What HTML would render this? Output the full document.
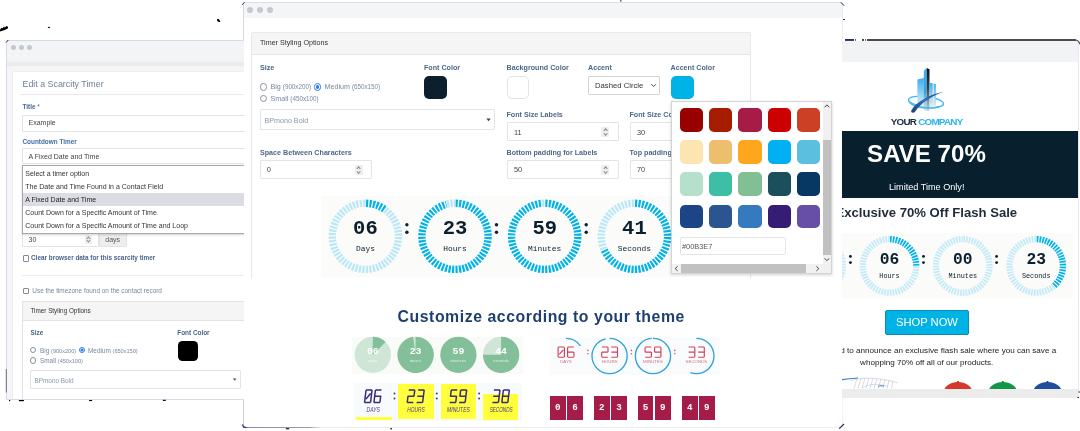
<!DOCTYPE html>
<html>
<head>
<meta charset="utf-8">
<title>Scarcity Timer</title>
<style>
*{box-sizing:border-box;margin:0;padding:0}
html,body{width:1080px;height:431px;overflow:hidden;background:#fff}
#page{position:absolute;left:0;top:0;width:1080px;height:431px;overflow:hidden;background:#fff;filter:blur(.4px)}
body{position:relative;font-family:"Liberation Sans",sans-serif;color:#333;-webkit-font-smoothing:antialiased}
.abs,.w *{position:absolute;white-space:nowrap}
.w{position:absolute;overflow:hidden;background:#fff}
.o{width:0;height:0;overflow:visible}
.dot{border-radius:50%;background:#c4c8d0}
.tn{font-family:"Liberation Mono",monospace;font-weight:bold;fill:#0b1f2d;text-anchor:middle}
.tl{font-family:"Liberation Mono",monospace;fill:#0b1f2d;text-anchor:middle}
svg{position:absolute;left:0;top:0;overflow:visible}
svg *{position:static}

/* ---------- left window ---------- */
#wl{left:6px;top:40px;width:240px;height:360px;border:1px solid #d9d9ea;border-radius:3px 0 0 0;background:#f4f5f7}
#wl .lb{font-weight:bold;font-size:6.4px;color:#46658a;line-height:8px}
#wl .in{border:1px solid #e2e3e7;background:#fff;border-radius:1px}
#wl .tx{font-size:7px;color:#444;line-height:9px}

/* ---------- middle window ---------- */
#wm{left:243.6px;top:2px;width:598.100px;height:426px;border:1px solid #dcdcec;border-bottom:none;border-left:none;border-right:none;border-radius:0 3px 0 0}
#wm .lb{font-weight:bold;font-size:7.15px;color:#4d6888;line-height:9px}
#wm .in{border:1px solid #e3e4e7;background:#fff;border-radius:1px;height:19px}
#wm .tx{font-size:7.4px;color:#444;line-height:9px}
#wm .sp{width:8px;height:9.500px;background:#eee;border-radius:1px}
#wm .sp:before,#wm .sp:after{content:"";position:absolute;left:2.600px;width:2.200px;height:2.200px;border-left:.7px solid #888;border-top:.7px solid #888}
#wm .sp:before{top:2.200px;transform:rotate(45deg)}
#wm .sp:after{top:4.800px;transform:rotate(225deg)}
.sp2{width:7px;height:8.500px;background:#eee;border-radius:1px}
.sp2:before,.sp2:after{content:"";position:absolute;left:2.300px;width:1.900px;height:1.900px;border-left:.7px solid #888;border-top:.7px solid #888}
.sp2:before{top:2px;transform:rotate(45deg)}
.sp2:after{top:4.300px;transform:rotate(225deg)}
.sw{border-radius:5px}
.rd{width:7.4px;height:7.4px;border-radius:50%;border:1px solid #8b9099;background:#fff}
.rd.on{border:1.2px solid #2b7de9;background:radial-gradient(circle,#2b7de9 0 1.6px,#fff 2px)}
.rt{font-size:7.15px;color:#7688a0;line-height:9px}

.cb{width:6.600px;height:6.600px;border:.9px solid #858a92;border-radius:1px;background:#fff}
.rd.s{width:6.400px;height:6.400px}
.rd.s.on{border-width:1px;background:radial-gradient(circle,#2b7de9 0 1.300px,#fff 1.700px)}
.rt.s{font-size:6.4px}
.rt.s small{font-size:5.6px}
.rt small{position:static;font-size:6.27px;color:#7688a0}


/* ---------- right window ---------- */
#wr{left:841.600px;top:39px;width:237.400px;height:359px;border-right:1px solid #e8e8ee;border-radius:0 4px 0 0}
</style>
</head>
<body>
<div id="page">

<!-- ================= LEFT WINDOW ================= -->
<div class="w" id="wl">
  <div class="o" style="left:-7px;top:-41px">
  <div style="left:7px;top:41px;width:240px;height:21px;background:#f3f4f6"></div>
  <div style="left:7px;top:62px;width:240px;height:3.5px;background:#ebebec"></div>
  <div class="dot" style="left:10.6px;top:44.6px;width:5px;height:5px"></div>
  <div class="dot" style="left:18.9px;top:44.6px;width:5px;height:5px"></div>
  <div class="dot" style="left:27.2px;top:44.6px;width:5px;height:5px"></div>

  <!-- white card -->
  <div style="left:12px;top:70.7px;width:240px;height:340px;background:#fff;border-left:1px solid #ececee;border-top:1px solid #f0f0f2"></div>
  <div style="left:22.5px;top:77.5px;font-size:8.86px;line-height:12px;color:#6d7f97">Edit a Scarcity Timer</div>
  <div style="left:20px;top:94px;width:230px;height:1px;background:#e9e9eb"></div>

  <div class="lb" style="left:22.5px;top:103.2px">Title <span style="position:static;font-weight:normal">*</span></div>
  <div class="in" style="left:22px;top:114.5px;width:230px;height:17px"></div>
  <div class="tx" style="left:28.5px;top:118.2px">Example</div>

  <div class="lb" style="left:22.5px;top:137.5px;color:#3f6fa3">Countdown Timer</div>
  <div class="in" style="left:22px;top:148px;width:230px;height:16.3px"></div>
  <div class="tx" style="left:28.5px;top:152px">A Fixed Date and Time</div>

  <!-- number input + addon (under dropdown) -->
  <div class="in" style="left:22px;top:231px;width:77px;height:16.3px"></div>
  <div class="tx" style="left:28.5px;top:235.2px">30</div>
  <div class="sp2" style="left:84.5px;top:235.2px"></div>
  <div style="left:98.5px;top:231px;width:28px;height:16.3px;background:#eeeeee;border:1px solid #e2e2e2;border-radius:0 2px 2px 0"></div>
  <div class="tx" style="left:105.3px;top:235.2px;color:#555">days</div>

  <!-- dropdown list -->
  <div style="left:22px;top:164.6px;width:230px;height:69.4px;background:#fff;border:1px solid #a6a6ab;box-shadow:0 1px 2px rgba(0,0,0,.18)"></div>
  <div style="left:23px;top:193.3px;width:228px;height:13px;background:#dcdce4"></div>
  <div class="tx" style="left:25.3px;top:169.3px;color:#333">Select a timer option</div>
  <div class="tx" style="left:25.3px;top:182.3px;color:#333">The Date and Time Found in a Contact Field</div>
  <div class="tx" style="left:25.3px;top:195.4px;color:#222">A Fixed Date and Time</div>
  <div class="tx" style="left:25.3px;top:208.3px;color:#333">Count Down for a Specific Amount of Time</div>
  <div class="tx" style="left:25.3px;top:221.3px;color:#333">Count Down for a Specific Amount of Time and Loop</div>

  <div class="cb" style="left:22.6px;top:255px"></div>
  <div class="lb" style="left:31px;top:254px">Clear browser data for this scarcity timer</div>
  <div style="left:22px;top:275px;width:230px;height:1px;background:#ececee"></div>

  <div class="cb" style="left:22.6px;top:287.6px"></div>
  <div class="tx" style="left:32.3px;top:286.3px;font-size:6.42px;color:#7688a0">Use the timezone found on the contact record</div>

  <!-- styling options panel -->
  <div style="left:22px;top:300.5px;width:240px;height:110px;border:1px solid #e3e3e6;background:#fff"></div>
  <div style="left:23px;top:301.5px;width:238px;height:19px;background:#f5f5f5;border-bottom:1px solid #e3e3e6"></div>
  <div class="tx" style="left:30.4px;top:306.4px;font-size:6.35px;color:#333">Timer Styling Options</div>

  <div class="lb" style="left:30.5px;top:329px">Size</div>
  <div class="rd s" style="left:30px;top:347px"></div>
  <div class="rt s" style="left:40px;top:345.6px">Big <small>(900x200)</small></div>
  <div class="rd s on" style="left:78.5px;top:347px"></div>
  <div class="rt s" style="left:88px;top:345.6px">Medium <small>(650x150)</small></div>
  <div class="rd s" style="left:30px;top:357.4px"></div>
  <div class="rt s" style="left:40px;top:356.2px">Small <small>(450x100)</small></div>

  <div class="lb" style="left:177.3px;top:329px">Font Color</div>
  <div class="sw" style="left:177.5px;top:340.6px;width:20px;height:20.4px;background:#000;border-radius:4.5px"></div>

  <div class="in" style="left:30px;top:370px;width:211px;height:18.8px"></div>
  <div class="tx" style="left:34.5px;top:375.7px;font-size:6.4px;color:#8a97a8">BPmono Bold</div>
  <svg width="1080" height="431"><path d="M232.8 378.4h3.8l-1.9 2.3z" fill="#555"/></svg>

  </div>
</div>

<!-- ================= RIGHT WINDOW ================= -->
<div class="w" id="wr">
  <div class="o" style="left:-841.600px;top:-39px">
  <div style="left:841.600px;top:40.5px;width:239px;height:21.500px;background:#f2f3f5"></div>
  <div style="left:866.8px;top:39px;width:209px;height:2px;background:#4a4a50"></div>

  <!-- logo -->
  <svg width="1080" height="431">
    <defs>
      <linearGradient id="gA" x1="0" y1="0" x2="0" y2="1"><stop offset="0" stop-color="#36b4ee"/><stop offset=".55" stop-color="#3aa0dd"/><stop offset="1" stop-color="#dfe6ee"/></linearGradient>
      <linearGradient id="gB" x1="0" y1="0" x2="0" y2="1"><stop offset="0" stop-color="#0a1018"/><stop offset=".5" stop-color="#3b4656"/><stop offset="1" stop-color="#c8ced6"/></linearGradient>
      <linearGradient id="gC" x1="0" y1="0" x2="0" y2="1"><stop offset="0" stop-color="#38aeea"/><stop offset="1" stop-color="#e6f3fb"/></linearGradient>
      <linearGradient id="gD" x1="0" y1="1" x2="1" y2="0"><stop offset="0" stop-color="#1f3f75"/><stop offset=".5" stop-color="#2c6fb5"/><stop offset="1" stop-color="#1d3f7a"/></linearGradient>
    </defs>
    <ellipse cx="926" cy="101.8" rx="17.6" ry="5.2" transform="rotate(7 926 101.8)" fill="none" stroke="#45baf0" stroke-width="1.5"/>
    <path d="M917.4 79.600l6.500-1.500v29.500l-6.500-.6z" fill="url(#gC)"/>
    <path d="M923.8 71l2.900-2.900v42.800l-2.900-.3z" fill="url(#gA)"/>
    <path d="M926.700 68.100l2.800 1.100v41.300l-2.800 .4z" fill="url(#gB)"/>
    <path d="M929.500 82.800l6.400 1.500v23l-6.400 .9z" fill="url(#gC)"/>
    <path d="M932.600 83.500l1.300 .3v24l-1.300 .2z" fill="#e9f1f8" opacity=".8"/>
    <path d="M908.200 99.200c.2 3.400 7 6.600 15.500 7.600c8 .9 16.500 .3 20.300-2.200c-2.500 3.600-11 5-20.600 3.900c-9.600-1.100-16.600-5-15.200-9.300z" fill="#45baf0"/>
    <path d="M911.300 110.400c4.700-8.200 18.500-16 32.400-18.600c-12.500 4-23.300 11.700-28.700 20c-1.100 1.700-4.600 .7-3.700-1.400z" fill="url(#gD)"/>
  </svg>
  <div style="left:890.8px;top:115.6px;font-weight:bold;font-size:9.9px;line-height:11px;letter-spacing:-.78px;color:#1b2a3e">YOUR <span style="position:static;color:#2bb5f0">COMPANY</span></div>

  <!-- banner -->
  <div style="left:841.6px;top:131.300px;width:236.200px;height:67.200px;background:#081f2d"></div>
  <div style="left:867.1px;top:139.5px;font-weight:bold;font-size:24.1px;line-height:28px;color:#fff">SAVE 70%</div>
  <div style="left:889px;top:181.6px;font-size:9.12px;line-height:11px;color:#fff">Limited Time Only!</div>

  <div style="left:835.500px;top:205px;font-weight:bold;font-size:13.13px;line-height:16px;color:#1f2b3a">Exclusive 70% Off Flash Sale</div>

  <!-- timer -->
  <div style="left:841.6px;top:232.8px;width:231.500px;height:66.5px;background:#fbfbfa"></div>
  <svg width="1080" height="431"><path d="M839.37 252.52A26.75 26.75 0 0 1 793.03 279.27A26.75 26.75 0 0 1 816.20 239.15" fill="none" stroke="#c3eaf8" stroke-width="6.3" stroke-dasharray="1.737 1.064" stroke-dashoffset="-0.532"/><path d="M816.20 239.15A26.75 26.75 0 0 1 839.37 252.52" fill="none" stroke="#00b3e7" stroke-width="6.3" stroke-dasharray="1.737 1.064" stroke-dashoffset="-0.532"/><text x="816.2" y="263.9" class="tn" font-size="16.3">00</text><text x="816.2" y="277.9" class="tl" font-size="6.8">Days</text><path d="M916.25 265.90A26.75 26.75 0 0 1 862.75 265.90A26.75 26.75 0 0 1 889.50 239.15" fill="none" stroke="#c3eaf8" stroke-width="6.3" stroke-dasharray="1.737 1.064" stroke-dashoffset="-0.532"/><path d="M889.50 239.15A26.75 26.75 0 0 1 916.25 265.90" fill="none" stroke="#00b3e7" stroke-width="6.3" stroke-dasharray="1.737 1.064" stroke-dashoffset="-0.532"/><text x="889.5" y="263.9" class="tn" font-size="16.3">06</text><text x="889.5" y="277.9" class="tl" font-size="6.8">Hours</text><path d="M962.80 239.15A26.75 26.75 0 0 1 962.80 292.65A26.75 26.75 0 0 1 962.66 239.15" fill="none" stroke="#c3eaf8" stroke-width="6.3" stroke-dasharray="1.737 1.064" stroke-dashoffset="-0.532"/><text x="962.8" y="263.9" class="tn" font-size="16.3">00</text><text x="962.8" y="277.9" class="tl" font-size="6.8">Minutes</text><path d="M1054.10 285.78A26.75 26.75 0 0 1 1018.30 246.02A26.75 26.75 0 0 1 1036.20 239.15" fill="none" stroke="#c3eaf8" stroke-width="6.3" stroke-dasharray="1.737 1.064" stroke-dashoffset="-0.532"/><path d="M1036.20 239.15A26.75 26.75 0 0 1 1054.10 285.78" fill="none" stroke="#00b3e7" stroke-width="6.3" stroke-dasharray="1.737 1.064" stroke-dashoffset="-0.532"/><text x="1036.2" y="263.9" class="tn" font-size="16.3">23</text><text x="1036.2" y="277.9" class="tl" font-size="6.8">Seconds</text><circle cx="850.4" cy="256.4" r="1.45" fill="#0b1f2d"/><circle cx="850.4" cy="262.6" r="1.45" fill="#0b1f2d"/><circle cx="923.5" cy="256.4" r="1.45" fill="#0b1f2d"/><circle cx="923.5" cy="262.6" r="1.45" fill="#0b1f2d"/><circle cx="996.6" cy="256.4" r="1.45" fill="#0b1f2d"/><circle cx="996.6" cy="262.6" r="1.45" fill="#0b1f2d"/></svg>

  <!-- button -->
  <div style="left:885.2px;top:310px;width:83.5px;height:24.8px;background:#00b3e7;border:1px solid #1089b9;border-radius:2px;color:#fff;font-size:11.2px;line-height:23px;text-align:center">SHOP NOW</div>

  <div style="left:723.500px;top:345.4px;width:400px;text-align:center;font-size:8.12px;line-height:11.4px;color:#222">We are excited to announce an exclusive flash sale where you can save a</div>
  <div style="left:726.700px;top:356.800px;width:400px;text-align:center;font-size:8.12px;line-height:11.4px;color:#222">whopping 70% off all of our products.</div>

  <!-- products -->
  <svg width="1080" height="431">
    <g fill="none" stroke="#c5ccd6" stroke-width=".7"><path d="M857 378.500l-3 10M861 378.300l-3 10M865 378.200l-3 10M869 378.200l-3 10M873 378.300l-3 10M877 378.500l-3 10M881 378.800l-3 10M885 379.300l-2 9M889 380l-2 8.500M893 381l-1.500 7.500"/><path d="M850 381c10-4 30-4 48 2"/><path d="M862 388c6-4 16-5 26-1.500"/></g>
    <path d="M842 379.600c6-.9 11-1.300 16-1.600" fill="none" stroke="#3f7fc0" stroke-width="1.200"/>
    <path d="M878 386.500c2-.8 4-.9 6-.4" fill="none" stroke="#3f7fc0" stroke-width="1"/>
    <ellipse cx="958" cy="392.300" rx="14.200" ry="10.200" fill="#d8382c"/><circle cx="958" cy="382" r="1.100" fill="#b52a20"/>
    <ellipse cx="1002.800" cy="392.300" rx="14.200" ry="10.200" fill="#11964a"/><circle cx="1002.800" cy="382" r="1.100" fill="#0c7a3a"/>
    <ellipse cx="1047.500" cy="392.300" rx="14.200" ry="10.200" fill="#1f4ea1"/><circle cx="1047.500" cy="382" r="1.100" fill="#173d82"/>
  </svg>
  <div style="left:841.6px;top:388.7px;width:240px;height:9px;background:#ececec"></div>

  </div>
</div>

<!-- ================= MIDDLE WINDOW ================= -->
<div class="w" id="wm">
  <div class="o" style="left:-243.6px;top:-3px">
  <div style="left:243px;top:3px;width:601px;height:15px;background:#f4f5f6"></div>
  <div class="dot" style="left:247.4px;top:7.4px;width:6px;height:6px"></div>
  <div class="dot" style="left:257.4px;top:7.4px;width:6px;height:6px"></div>
  <div class="dot" style="left:267.4px;top:7.4px;width:6px;height:6px"></div>

  <!-- panel -->
  <div style="left:250.5px;top:31.5px;width:500px;height:247.5px;border:1px solid #e9e9eb;border-radius:2px 2px 0 0;border-bottom:none"></div>
  <div style="left:251.5px;top:32.5px;width:498px;height:22.3px;background:#f5f5f5;border-bottom:1px solid #e6e6e8"></div>
  <div class="tx" style="left:260px;top:39px;font-size:7.15px;color:#333">Timer Styling Options</div>

  <div class="lb" style="left:260px;top:64.2px">Size</div>
  <div class="rd" style="left:259.6px;top:83.3px"></div>
  <div class="rt" style="left:270.5px;top:82.3px">Big <small>(900x200)</small></div>
  <div class="rd on" style="left:313.6px;top:83.3px"></div>
  <div class="rt" style="left:324.5px;top:82.3px">Medium <small>(650x150)</small></div>
  <div class="rd" style="left:259.6px;top:94.5px"></div>
  <div class="rt" style="left:270.5px;top:93.6px">Small <small>(450x100)</small></div>

  <div class="lb" style="left:424px;top:64.2px">Font Color</div>
  <div class="sw" style="left:424px;top:76px;width:22.5px;height:22.5px;background:#0b1f2d"></div>

  <div class="lb" style="left:506.5px;top:64.2px">Background Color</div>
  <div class="sw" style="left:506.5px;top:76px;width:22.5px;height:22.5px;background:#fff;border:1px solid #e3e3e3"></div>

  <div class="lb" style="left:588px;top:64.2px">Accent</div>
  <div style="left:588px;top:76px;width:71.5px;height:18.5px;border:1px solid #d4d4d4;border-radius:1px;background:#fff"></div>
  <div class="tx" style="left:595px;top:80.8px;font-size:7.7px;color:#333">Dashed Circle</div>
  <svg width="1080" height="431"><path d="M651.4 84.3l2.2 2.2l2.2-2.2" fill="none" stroke="#333" stroke-width=".9"/></svg>

  <div class="lb" style="left:670.5px;top:64.2px">Accent Color</div>
  <div class="sw" style="left:670.5px;top:76px;width:23px;height:22.5px;background:#00b3e7"></div>

  <!-- font select -->
  <div class="in" style="left:260px;top:109px;width:235px;height:20.5px"></div>
  <div class="tx" style="left:264.5px;top:116.7px;font-size:7.15px;color:#8a97a8">BPmono Bold</div>
  <svg width="1080" height="431"><path d="M486.3 118.6h4.4l-2.2 2.6z" fill="#444"/></svg>

  <div class="lb" style="left:506.5px;top:111.200px">Font Size Labels</div>
  <div class="in" style="left:506.5px;top:122px;width:112px;height:19.300px"></div>
  <div class="tx" style="left:514px;top:127.8px">11</div>
  <div class="sp" style="left:601px;top:127.3px"></div>

  <div class="lb" style="left:629.5px;top:111.200px">Font Size Counter</div>
  <div class="in" style="left:629.5px;top:122px;width:112px;height:19.300px"></div>
  <div class="tx" style="left:637px;top:127.8px">30</div>

  <div class="lb" style="left:260px;top:149.100px">Space Between Characters</div>
  <div class="in" style="left:260px;top:160px;width:111.5px;height:19px"></div>
  <div class="tx" style="left:266.8px;top:165.3px">0</div>
  <div class="sp" style="left:354.5px;top:165px"></div>

  <div class="lb" style="left:506.5px;top:149.100px">Bottom padding for Labels</div>
  <div class="in" style="left:506.5px;top:160px;width:112px;height:19px"></div>
  <div class="tx" style="left:514px;top:165.3px">50</div>
  <div class="sp" style="left:601px;top:165px"></div>

  <div class="lb" style="left:629.5px;top:149.100px">Top padding for Counter</div>
  <div class="in" style="left:629.5px;top:160px;width:112px;height:19px"></div>
  <div class="tx" style="left:637px;top:165.3px">70</div>

  <!-- timer preview -->
  <div style="left:320.5px;top:196.200px;width:352px;height:81.200px;background:#fbfbfa"></div>
  <svg width="1080" height="431"><path d="M384.86 209.52A33.099999999999994 33.099999999999994 0 0 1 345.94 263.08A33.099999999999994 33.099999999999994 0 0 1 365.40 203.20" fill="none" stroke="#b9e7f7" stroke-width="7.4" stroke-dasharray="2.149 1.317" stroke-dashoffset="-0.659"/><path d="M365.40 203.20A33.099999999999994 33.099999999999994 0 0 1 384.86 209.52" fill="none" stroke="#00b3e7" stroke-width="7.4" stroke-dasharray="2.149 1.317" stroke-dashoffset="-0.659"/><text x="365.4" y="234" class="tn" font-size="20.5">06</text><text x="365.4" y="250.5" class="tl" font-size="7.900">Days</text><path d="M446.43 204.33A33.099999999999994 33.099999999999994 0 0 1 455.00 203.20" fill="none" stroke="#b9e7f7" stroke-width="7.4" stroke-dasharray="2.149 1.317" stroke-dashoffset="-0.659"/><path d="M455.00 203.20A33.099999999999994 33.099999999999994 0 0 1 455.00 269.40A33.099999999999994 33.099999999999994 0 0 1 446.43 204.33" fill="none" stroke="#00b3e7" stroke-width="7.4" stroke-dasharray="2.149 1.317" stroke-dashoffset="-0.659"/><text x="455.0" y="234" class="tn" font-size="20.5">23</text><text x="455.0" y="250.5" class="tl" font-size="7.900">Hours</text><path d="M541.24 203.38A33.099999999999994 33.099999999999994 0 0 1 544.70 203.20" fill="none" stroke="#b9e7f7" stroke-width="7.4" stroke-dasharray="2.149 1.317" stroke-dashoffset="-0.659"/><path d="M544.70 203.20A33.099999999999994 33.099999999999994 0 0 1 544.70 269.40A33.099999999999994 33.099999999999994 0 0 1 541.24 203.38" fill="none" stroke="#00b3e7" stroke-width="7.4" stroke-dasharray="2.149 1.317" stroke-dashoffset="-0.659"/><text x="544.7" y="234" class="tn" font-size="20.5">59</text><text x="544.7" y="250.5" class="tl" font-size="7.900">Minutes</text><path d="M604.16 249.76A33.099999999999994 33.099999999999994 0 0 1 634.40 203.20" fill="none" stroke="#b9e7f7" stroke-width="7.4" stroke-dasharray="2.149 1.317" stroke-dashoffset="-0.659"/><path d="M634.40 203.20A33.099999999999994 33.099999999999994 0 0 1 634.40 269.40A33.099999999999994 33.099999999999994 0 0 1 604.16 249.76" fill="none" stroke="#00b3e7" stroke-width="7.4" stroke-dasharray="2.149 1.317" stroke-dashoffset="-0.659"/><text x="634.4" y="234" class="tn" font-size="20.5">41</text><text x="634.4" y="250.5" class="tl" font-size="7.900">Seconds</text><circle cx="406.9" cy="224.8" r="1.7" fill="#0b1f2d"/><circle cx="406.9" cy="232.2" r="1.7" fill="#0b1f2d"/><circle cx="496.5" cy="224.8" r="1.7" fill="#0b1f2d"/><circle cx="496.5" cy="232.2" r="1.7" fill="#0b1f2d"/><circle cx="586.2" cy="224.8" r="1.7" fill="#0b1f2d"/><circle cx="586.2" cy="232.2" r="1.7" fill="#0b1f2d"/></svg>

  <!-- colour picker popup -->
  <div style="left:670.5px;top:101px;width:161.5px;height:173px;background:#fff;border:1px solid #d4d4d4;box-shadow:0 1px 3px rgba(0,0,0,.18)"></div>
  <div class="sw" style="left:679.5px;top:108.3px;width:23.6px;height:23.6px;background:#990000"></div>
  <div class="sw" style="left:708.8px;top:108.3px;width:23.6px;height:23.6px;background:#a61c00"></div>
  <div class="sw" style="left:738.1px;top:108.3px;width:23.6px;height:23.6px;background:#a61c47"></div>
  <div class="sw" style="left:767.5px;top:108.3px;width:23.6px;height:23.6px;background:#cc0000"></div>
  <div class="sw" style="left:796.8px;top:108.3px;width:23.6px;height:23.6px;background:#cc4125"></div>
  <div class="sw" style="left:679.5px;top:140.3px;width:23.6px;height:23.6px;background:#fce5b0"></div>
  <div class="sw" style="left:708.8px;top:140.3px;width:23.6px;height:23.6px;background:#ebbf6d"></div>
  <div class="sw" style="left:738.1px;top:140.3px;width:23.6px;height:23.6px;background:#ffa61f"></div>
  <div class="sw" style="left:767.5px;top:140.3px;width:23.6px;height:23.6px;background:#00b0f3"></div>
  <div class="sw" style="left:796.8px;top:140.3px;width:23.6px;height:23.6px;background:#5bbfe0"></div>
  <div class="sw" style="left:679.5px;top:172.4px;width:23.6px;height:23.6px;background:#b6dfcc"></div>
  <div class="sw" style="left:708.8px;top:172.4px;width:23.6px;height:23.6px;background:#3cbfa4"></div>
  <div class="sw" style="left:738.1px;top:172.4px;width:23.6px;height:23.6px;background:#82bf94"></div>
  <div class="sw" style="left:767.5px;top:172.4px;width:23.6px;height:23.6px;background:#1b4f5c"></div>
  <div class="sw" style="left:796.8px;top:172.4px;width:23.6px;height:23.6px;background:#073763"></div>
  <div class="sw" style="left:679.5px;top:204.5px;width:23.6px;height:23.6px;background:#1c4587"></div>
  <div class="sw" style="left:708.8px;top:204.5px;width:23.6px;height:23.6px;background:#2b5591"></div>
  <div class="sw" style="left:738.1px;top:204.5px;width:23.6px;height:23.6px;background:#3579bf"></div>
  <div class="sw" style="left:767.5px;top:204.5px;width:23.6px;height:23.6px;background:#351c75"></div>
  <div class="sw" style="left:796.8px;top:204.5px;width:23.6px;height:23.6px;background:#674ea7"></div>
  <div style="left:679.5px;top:237px;width:106px;height:18.3px;border:1px solid #e4e4e4;border-radius:2px;background:#fff"></div>
  <div class="tx" style="left:682px;top:241.8px;font-size:7.4px;color:#555">#00B3E7</div>
  <!-- scrollbars -->
  <div style="left:822.5px;top:102px;width:8.7px;height:162px;background:#f1f1f1"></div>
  <div style="left:822.5px;top:140px;width:8.7px;height:115px;background:#c1c1c1"></div>
  <div style="left:671.5px;top:264.3px;width:159.7px;height:8.8px;background:#f1f1f1"></div>
  <div style="left:681px;top:264.3px;width:125px;height:8.8px;background:#c1c1c1"></div>
  <svg width="1080" height="431"><g fill="none" stroke="#444" stroke-width="1"><path d="M824.6 107.300l2.3-2.4l2.3 2.4"/><path d="M824.6 258.3l2.3 2.4l2.3-2.4"/><path d="M677.6 266.3l-2.4 2.3l2.4 2.3"/><path d="M816.4 266.3l2.4 2.3l-2.4 2.3"/></g></svg>


  <!-- bottom showcase -->
  <div style="left:397.500px;top:306.300px;width:290px;height:22px;text-align:left;font-weight:bold;font-size:15.800px;letter-spacing:.57px;line-height:22px;color:#1e4070">Customize according to your theme</div>
  <div style="left:351.5px;top:336.5px;width:171px;height:37.5px;background:#f9fbf9"></div>
  <div style="left:549.5px;top:336.5px;width:170px;height:38.5px;background:#f9fbfd"></div>
  <svg width="1080" height="431"><circle cx="372.8" cy="354.8" r="18.15" fill="#cfe6d6"/><path d="M372.8 354.8L372.8 336.65000000000003A18.15 18.15 0 0 1 385.63 341.97Z" fill="#83bf98"/><text x="372.8" y="353.9" text-anchor="middle" font-family="Liberation Mono" font-weight="bold" font-size="9.8" fill="#fff">06</text><text x="372.8" y="361.6" text-anchor="middle" font-family="Liberation Mono" font-size="3.8" fill="#fff" opacity=".8">Days</text><circle cx="415.6" cy="354.8" r="18.15" fill="#cfe6d6"/><path d="M415.6 354.8L415.6 336.65000000000003A18.15 18.15 0 1 1 413.07 336.83Z" fill="#83bf98"/><text x="415.6" y="353.9" text-anchor="middle" font-family="Liberation Mono" font-weight="bold" font-size="9.8" fill="#fff">23</text><text x="415.6" y="361.6" text-anchor="middle" font-family="Liberation Mono" font-size="3.8" fill="#fff" opacity=".8">Hours</text><circle cx="458.4" cy="354.8" r="18.15" fill="#83bf98"/><text x="458.4" y="353.9" text-anchor="middle" font-family="Liberation Mono" font-weight="bold" font-size="9.8" fill="#fff">59</text><text x="458.4" y="361.6" text-anchor="middle" font-family="Liberation Mono" font-size="3.8" fill="#fff" opacity=".8">Minutes</text><circle cx="501.1" cy="354.8" r="18.15" fill="#cfe6d6"/><path d="M501.1 354.8L501.1 336.65000000000003A18.15 18.15 0 1 1 482.95 354.80Z" fill="#83bf98"/><text x="501.1" y="353.9" text-anchor="middle" font-family="Liberation Mono" font-weight="bold" font-size="9.8" fill="#fff">44</text><text x="501.1" y="361.6" text-anchor="middle" font-family="Liberation Mono" font-size="3.8" fill="#fff" opacity=".8">Seconds</text><path d="M566.00 338.40A17.6 17.6 0 0 1 580.42 345.91" fill="none" stroke="#2ea3dc" stroke-width="1.35"/><path d="M558.80 347.00L563.70 347.00M564.40 347.70L564.40 351.68M564.40 352.52L564.40 356.50M558.80 357.20L563.70 357.20M558.10 352.52L558.10 356.50M558.10 347.70L558.10 351.68M559.68 353.94L562.83 350.26M568.30 347.00L573.20 347.00M567.60 347.70L567.60 351.68M568.30 352.10L573.20 352.10M567.60 352.52L567.60 356.50M568.30 357.20L573.20 357.20M573.90 352.52L573.90 356.50" fill="none" stroke="#cf4358" stroke-width="1.15" stroke-linecap="square"/><text x="566.0" y="363.4" text-anchor="middle" font-family="Liberation Sans" font-size="4.4" fill="#d4707f">DAYS</text><path d="M609.60 338.40A17.6 17.6 0 0 1 609.60 373.60A17.6 17.6 0 0 1 605.64 338.85" fill="none" stroke="#2ea3dc" stroke-width="1.35"/><path d="M602.40 347.00L607.30 347.00M608.00 347.70L608.00 351.68M602.40 352.10L607.30 352.10M601.70 352.52L601.70 356.50M602.40 357.20L607.30 357.20M611.90 347.00L616.80 347.00M617.50 347.70L617.50 351.68M611.90 352.10L616.80 352.10M617.50 352.52L617.50 356.50M611.90 357.20L616.80 357.20" fill="none" stroke="#cf4358" stroke-width="1.15" stroke-linecap="square"/><text x="609.6" y="363.4" text-anchor="middle" font-family="Liberation Sans" font-size="4.4" fill="#d4707f">HOURS</text><path d="M653.00 338.40A17.6 17.6 0 0 1 653.00 373.60A17.6 17.6 0 0 1 651.77 338.44" fill="none" stroke="#2ea3dc" stroke-width="1.35"/><path d="M645.80 347.00L650.70 347.00M645.10 347.70L645.10 351.68M645.80 352.10L650.70 352.10M651.40 352.52L651.40 356.50M645.80 357.20L650.70 357.20M655.30 347.00L660.20 347.00M660.90 347.70L660.90 351.68M660.90 352.52L660.90 356.50M655.30 357.20L660.20 357.20M654.60 347.70L654.60 351.68M655.30 352.10L660.20 352.10" fill="none" stroke="#cf4358" stroke-width="1.15" stroke-linecap="square"/><text x="653.0" y="363.4" text-anchor="middle" font-family="Liberation Sans" font-size="4.4" fill="#d4707f">MINUTES</text><path d="M696.40 338.40A17.6 17.6 0 0 1 696.40 373.60A17.6 17.6 0 0 1 690.38 372.54" fill="none" stroke="#2ea3dc" stroke-width="1.35"/><path d="M689.20 347.00L694.10 347.00M694.80 347.70L694.80 351.68M689.20 352.10L694.10 352.10M694.80 352.52L694.80 356.50M689.20 357.20L694.10 357.20M698.70 347.00L703.60 347.00M704.30 347.70L704.30 351.68M698.70 352.10L703.60 352.10M704.30 352.52L704.30 356.50M698.70 357.20L703.60 357.20" fill="none" stroke="#cf4358" stroke-width="1.15" stroke-linecap="square"/><text x="696.4" y="363.4" text-anchor="middle" font-family="Liberation Sans" font-size="4.4" fill="#d4707f">SECONDS</text><circle cx="587.9" cy="350.4" r=".8" fill="#d4566a"/><circle cx="587.9" cy="353.8" r=".8" fill="#d4566a"/><circle cx="631.4" cy="350.4" r=".8" fill="#d4566a"/><circle cx="631.4" cy="353.8" r=".8" fill="#d4566a"/><circle cx="674.8" cy="350.4" r=".8" fill="#d4566a"/><circle cx="674.8" cy="353.8" r=".8" fill="#d4566a"/></svg>

  <!-- yellow timer -->
  <div style="left:353.5px;top:382.8px;width:168.5px;height:37.8px;background:#f8fbfd"></div>
  <div style="left:398px;top:384.3px;width:35.6px;height:35.2px;background:#ffff3b"></div>
  <div style="left:440.5px;top:384.3px;width:35.4px;height:35.2px;background:#ffff3b"></div>
  <div style="left:482.7px;top:394px;width:35.4px;height:25.5px;background:#ffff3b"></div>
  <div style="left:356px;top:416.5px;width:35.5px;height:3px;background:#ffff3b"></div>
  <svg width="1080" height="431"><path d="M366.00 390.00L370.60 390.00M371.30 390.70L371.30 395.78M371.30 396.62L371.30 401.70M366.00 402.40L370.60 402.40M365.30 396.62L365.30 401.70M365.30 390.70L365.30 395.78M366.80 398.43L369.80 393.97M375.40 390.00L380.00 390.00M374.70 390.70L374.70 395.78M375.40 396.20L380.00 396.20M374.70 396.62L374.70 401.70M375.40 402.40L380.00 402.40M380.70 396.62L380.70 401.70" fill="none" stroke="#3b2a7a" stroke-width="1.5" stroke-linecap="square" transform="translate(373.0 396.2) skewX(-7) translate(-373.0 -396.2)"/><text x="366.2" y="411.9" font-family="Liberation Sans" font-size="7.2" fill="#4a3a86" textLength="13.6" lengthAdjust="spacingAndGlyphs" transform="translate(373.0 411.9) skewX(-7) translate(-373.0 -411.9)">DAYS</text><path d="M408.70 390.00L413.30 390.00M414.00 390.70L414.00 395.78M408.70 396.20L413.30 396.20M408.00 396.62L408.00 401.70M408.70 402.40L413.30 402.40M418.10 390.00L422.70 390.00M423.40 390.70L423.40 395.78M418.10 396.20L422.70 396.20M423.40 396.62L423.40 401.70M418.10 402.40L422.70 402.40" fill="none" stroke="#3b2a7a" stroke-width="1.5" stroke-linecap="square" transform="translate(415.7 396.2) skewX(-7) translate(-415.7 -396.2)"/><text x="406.95" y="411.9" font-family="Liberation Sans" font-size="7.2" fill="#4a3a86" textLength="17.5" lengthAdjust="spacingAndGlyphs" transform="translate(415.7 411.9) skewX(-7) translate(-415.7 -411.9)">HOURS</text><path d="M451.20 390.00L455.80 390.00M450.50 390.70L450.50 395.78M451.20 396.20L455.80 396.20M456.50 396.62L456.50 401.70M451.20 402.40L455.80 402.40M460.60 390.00L465.20 390.00M465.90 390.70L465.90 395.78M465.90 396.62L465.90 401.70M460.60 402.40L465.20 402.40M459.90 390.70L459.90 395.78M460.60 396.20L465.20 396.20" fill="none" stroke="#3b2a7a" stroke-width="1.5" stroke-linecap="square" transform="translate(458.2 396.2) skewX(-7) translate(-458.2 -396.2)"/><text x="446.7" y="411.9" font-family="Liberation Sans" font-size="7.2" fill="#4a3a86" textLength="23" lengthAdjust="spacingAndGlyphs" transform="translate(458.2 411.9) skewX(-7) translate(-458.2 -411.9)">MINUTES</text><path d="M493.90 390.00L498.50 390.00M499.20 390.70L499.20 395.78M493.90 396.20L498.50 396.20M499.20 396.62L499.20 401.70M493.90 402.40L498.50 402.40M503.30 390.00L507.90 390.00M508.60 390.70L508.60 395.78M508.60 396.62L508.60 401.70M503.30 402.40L507.90 402.40M502.60 396.62L502.60 401.70M502.60 390.70L502.60 395.78M503.30 396.20L507.90 396.20" fill="none" stroke="#3b2a7a" stroke-width="1.5" stroke-linecap="square" transform="translate(500.9 396.2) skewX(-7) translate(-500.9 -396.2)"/><text x="489.4" y="411.9" font-family="Liberation Sans" font-size="7.2" fill="#4a3a86" textLength="23" lengthAdjust="spacingAndGlyphs" transform="translate(500.9 411.9) skewX(-7) translate(-500.9 -411.9)">SECONDS</text><circle cx="394.5" cy="393.6" r="1" fill="#4a3a86"/><circle cx="394.5" cy="398.4" r="1" fill="#4a3a86"/><circle cx="436.8" cy="393.6" r="1" fill="#4a3a86"/><circle cx="436.8" cy="398.4" r="1" fill="#4a3a86"/><circle cx="479.1" cy="393.6" r="1" fill="#4a3a86"/><circle cx="479.1" cy="398.4" r="1" fill="#4a3a86"/></svg>

  <!-- crimson flip timer -->
  <div style="left:549.8px;top:396.2px;width:15.9px;height:23.4px;background:#a61c48;color:#fff;font:bold 9.2px/23.4px Liberation Mono,monospace;text-align:center">0</div><div style="left:567.1px;top:396.2px;width:15.9px;height:23.4px;background:#a61c48;color:#fff;font:bold 9.2px/23.4px Liberation Mono,monospace;text-align:center">6</div><div style="left:593.8px;top:396.2px;width:15.9px;height:23.4px;background:#a61c48;color:#fff;font:bold 9.2px/23.4px Liberation Mono,monospace;text-align:center">2</div><div style="left:611.0px;top:396.2px;width:15.9px;height:23.4px;background:#a61c48;color:#fff;font:bold 9.2px/23.4px Liberation Mono,monospace;text-align:center">3</div><div style="left:637.6px;top:396.2px;width:15.9px;height:23.4px;background:#a61c48;color:#fff;font:bold 9.2px/23.4px Liberation Mono,monospace;text-align:center">5</div><div style="left:654.9px;top:396.2px;width:15.9px;height:23.4px;background:#a61c48;color:#fff;font:bold 9.2px/23.4px Liberation Mono,monospace;text-align:center">9</div><div style="left:681.8px;top:396.2px;width:15.9px;height:23.4px;background:#a61c48;color:#fff;font:bold 9.2px/23.4px Liberation Mono,monospace;text-align:center">4</div><div style="left:698.9px;top:396.2px;width:15.9px;height:23.4px;background:#a61c48;color:#fff;font:bold 9.2px/23.4px Liberation Mono,monospace;text-align:center">9</div>


  </div>
</div>

<div class="abs" style="left:242.6px;top:3px;width:1px;height:37px;background:#d6d6ea"></div>
<div class="abs" style="left:242.6px;top:400px;width:1px;height:27px;background:#c9c9e0"></div>
<div class="abs" style="left:841.500px;top:4px;width:1px;height:35px;background:#ebebf2"></div>
<div class="abs" style="left:841.600px;top:398px;width:1px;height:30px;background:#f3f3f6"></div>
<div class="abs" style="left:243px;top:427.2px;width:600px;height:1px;background:linear-gradient(90deg,#8c8ca6 0,#9a9ab0 11%,#ececf0 13%,#f0f0f2 100%)"></div>
<svg class="abs" width="1080" height="431" style="left:0;top:0;pointer-events:none">
  <path d="M0 29.800l1.500-2.100l1.200 .5l1.200-1.600l1 .9l1.500-1.400l1.700 .6l-.3 1.700l-2.500 1.400l-2.800 .9l-2.500 .9z" fill="#000"/>
  <rect x="47.900" y="26.900" width="2.200" height="1" fill="#000"/>
  <path d="M217.100 19.300l1.200-.5l2 2.200l-.3 1l-1.500 .1l-1.500-1.700z" fill="#000"/>
  <path d="M6 42.500l2.300-2.500" stroke="#222" stroke-width="1" fill="none"/>
  <path d="M242.100 4.800l2.400-2.600" stroke="#222" stroke-width="1" fill="none"/>
  <rect x="620.200" y=".3" width="1.200" height="1.200" fill="#000"/>
  <path d="M840.800 2.200l3.200 3.400" stroke="#222" stroke-width="1" fill="none"/>
  <rect x="843" y="19" width="2" height="1" fill="#2a2a6a"/>
  <rect x="845" y="39" width="9" height="1.900" fill="#2a2a6a"/>
  <rect x="855.200" y="39" width=".8" height="1.900" fill="#2a2a6a"/>
  <rect x="862" y="39" width="2" height="1.900" fill="#444"/>
  <rect x="865" y="39" width=".8" height="1.900" fill="#444"/>
  <path d="M1075.200 39.900q3.500 .3 4.800 4.300" stroke="#555" stroke-width="1.400" fill="none"/>
  <rect x="9" y="400" width="1.200" height="1.200" fill="#000"/>
  <rect x="18.900" y="400" width="5" height="1.200" fill="#000"/>
  <rect x="89.100" y="400" width="3" height="1.100" fill="#000"/>
  <rect x="162.800" y="399.800" width="3" height="1.100" fill="#000"/>
  <rect x="5.800" y="369" width="1" height="23.500" fill="#555" opacity=".8"/>
  <path d="M242.600 424.500q.2 3 3.800 3.200" stroke="#33336a" stroke-width="1.300" fill="none"/>
  <rect x="285.800" y="428.200" width="3.400" height="1.100" fill="#000"/>
  <rect x="390.400" y="428" width="1.400" height="1.400" fill="#000"/>
  <path d="M839.200 428.600l4.800-4.600" stroke="#2a2a6a" stroke-width="1.200" fill="none"/>
  <rect x="1078.500" y="391.500" width="1.500" height="1" fill="#222"/>
  <rect x="1077.500" y="397" width="1.600" height="1" fill="#222"/>
</svg>
</div>
</body>
</html>
